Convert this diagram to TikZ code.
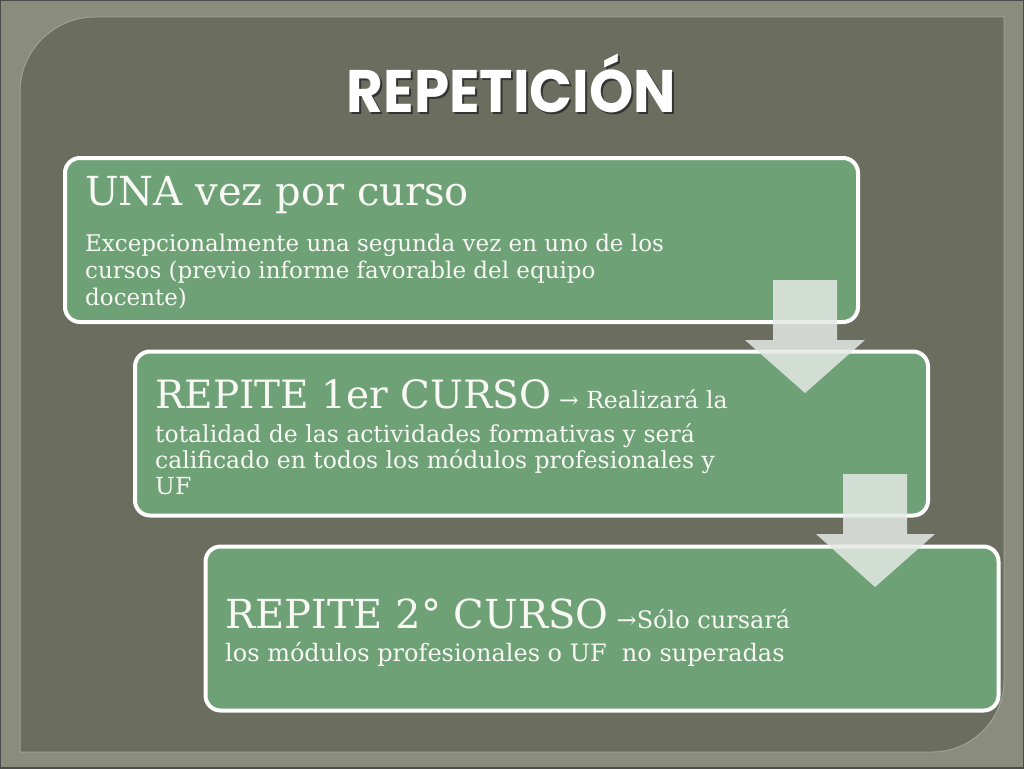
\documentclass[tikz,border=0pt]{standalone}
\usepackage{fontspec}
\setmainfont{DejaVu Serif}
\newfontfamily\titlefont{Poppins}[BoldFont={Poppins Bold}]
\definecolor{outerbg}{RGB}{138,141,124}
\definecolor{panelbg}{RGB}{107,109,95}
\definecolor{panelhi}{RGB}{160,163,146}
\definecolor{boxgreen}{RGB}{111,161,119}
\definecolor{arrowfill}{RGB}{228,233,228}
\definecolor{txt}{RGB}{248,248,244}
\tikzset{
  stepbox/.style={draw=white, line width=4pt, fill=boxgreen, rounded corners=15pt,
    minimum width=793pt, minimum height=164pt, inner sep=0pt},
  bigtxt/.style={anchor=base west, inner sep=0pt, text=txt, font=\fontsize{#1}{44}\selectfont},
  bigtxt/.default=40,
  smalltxt/.style={anchor=base west, inner sep=0pt, text=txt, font=\fontsize{#1}{27}\selectfont},
  smalltxt/.default=23,
  blockarrow/.style={fill=arrowfill, fill opacity=0.85, draw=none}
}
\begin{document}
\begin{tikzpicture}[x=1pt,y=-1pt]
\useasboundingbox (0,0) rectangle (1024,768);
% background
\fill[outerbg] (0,0) rectangle (1024,768);
\draw[black!70, line width=1.5pt] (0,0) rectangle (1024,768);
\fill[panelbg, draw=panelhi, line width=1pt]
  (20,92) arc[start angle=180, end angle=270, radius=75] -- (1004,17) -- (1004,680)
  arc[start angle=0, end angle=90, radius=72] -- (20,752) -- cycle;
% title
\node[inner sep=0pt, text=black!80] at (513.5,85.5) {\titlefont\bfseries\scalebox{0.94}[1.0]{\fontsize{60}{62}\selectfont REPETICIÓN}};
\node[inner sep=0pt, text=white] (title) at (511.5,83.5) {\titlefont\bfseries\scalebox{0.94}[1.0]{\fontsize{60}{62}\selectfont REPETICIÓN}};
% boxes
\node[stepbox] (b1) at (461.5,240) {};
\node[stepbox] (b2) at (531.5,433.5) {};
\node[stepbox] (b3) at (602,628.5) {};
% box 1 text
\node[bigtxt=40] (t1) at (85,205) {UNA vez por curso};
\node[smalltxt=23] (s1a) at (85,251) {Excepcionalmente una segunda vez en uno de los};
\node[smalltxt=23] (s1b) at (85,278) {cursos (previo informe favorable del equipo};
\node[smalltxt=23] (s1c) at (85,305) {docente)};
% box 2 text
\node[bigtxt=39] (t2) at (155,408) {REPITE 1er CURSO};
\node[smalltxt=23.5] (s2a) at (t2.base east) {\ → Realizará la};
\node[smalltxt=23.5] (s2b) at (155,442) {totalidad de las actividades formativas y será};
\node[smalltxt=23.5] (s2c) at (155,468) {calificado en todos los módulos profesionales y};
\node[smalltxt=23.5] (s2d) at (155,494) {UF};
% box 3 text
\node[bigtxt=40] (t3) at (225,628) {REPITE 2° CURSO};
\node[smalltxt=24] (s3a) at (t3.base east) {\ →Sólo cursará};
\node[smalltxt=24] (s3b) at (225,661) {los módulos profesionales o UF\ \ no superadas};
% block arrows
\coordinate (a1) at (805,280);
\fill[blockarrow] (773,280) -- (837,280) -- (837,340) -- (865,340) -- (805,393) -- (745,340) -- (773,340) -- cycle;
\coordinate (a2) at (875,474);
\fill[blockarrow] (843,474) -- (907,474) -- (907,534) -- (935,534) -- (875,587) -- (816,534) -- (843,534) -- cycle;
\end{tikzpicture}
\end{document}
